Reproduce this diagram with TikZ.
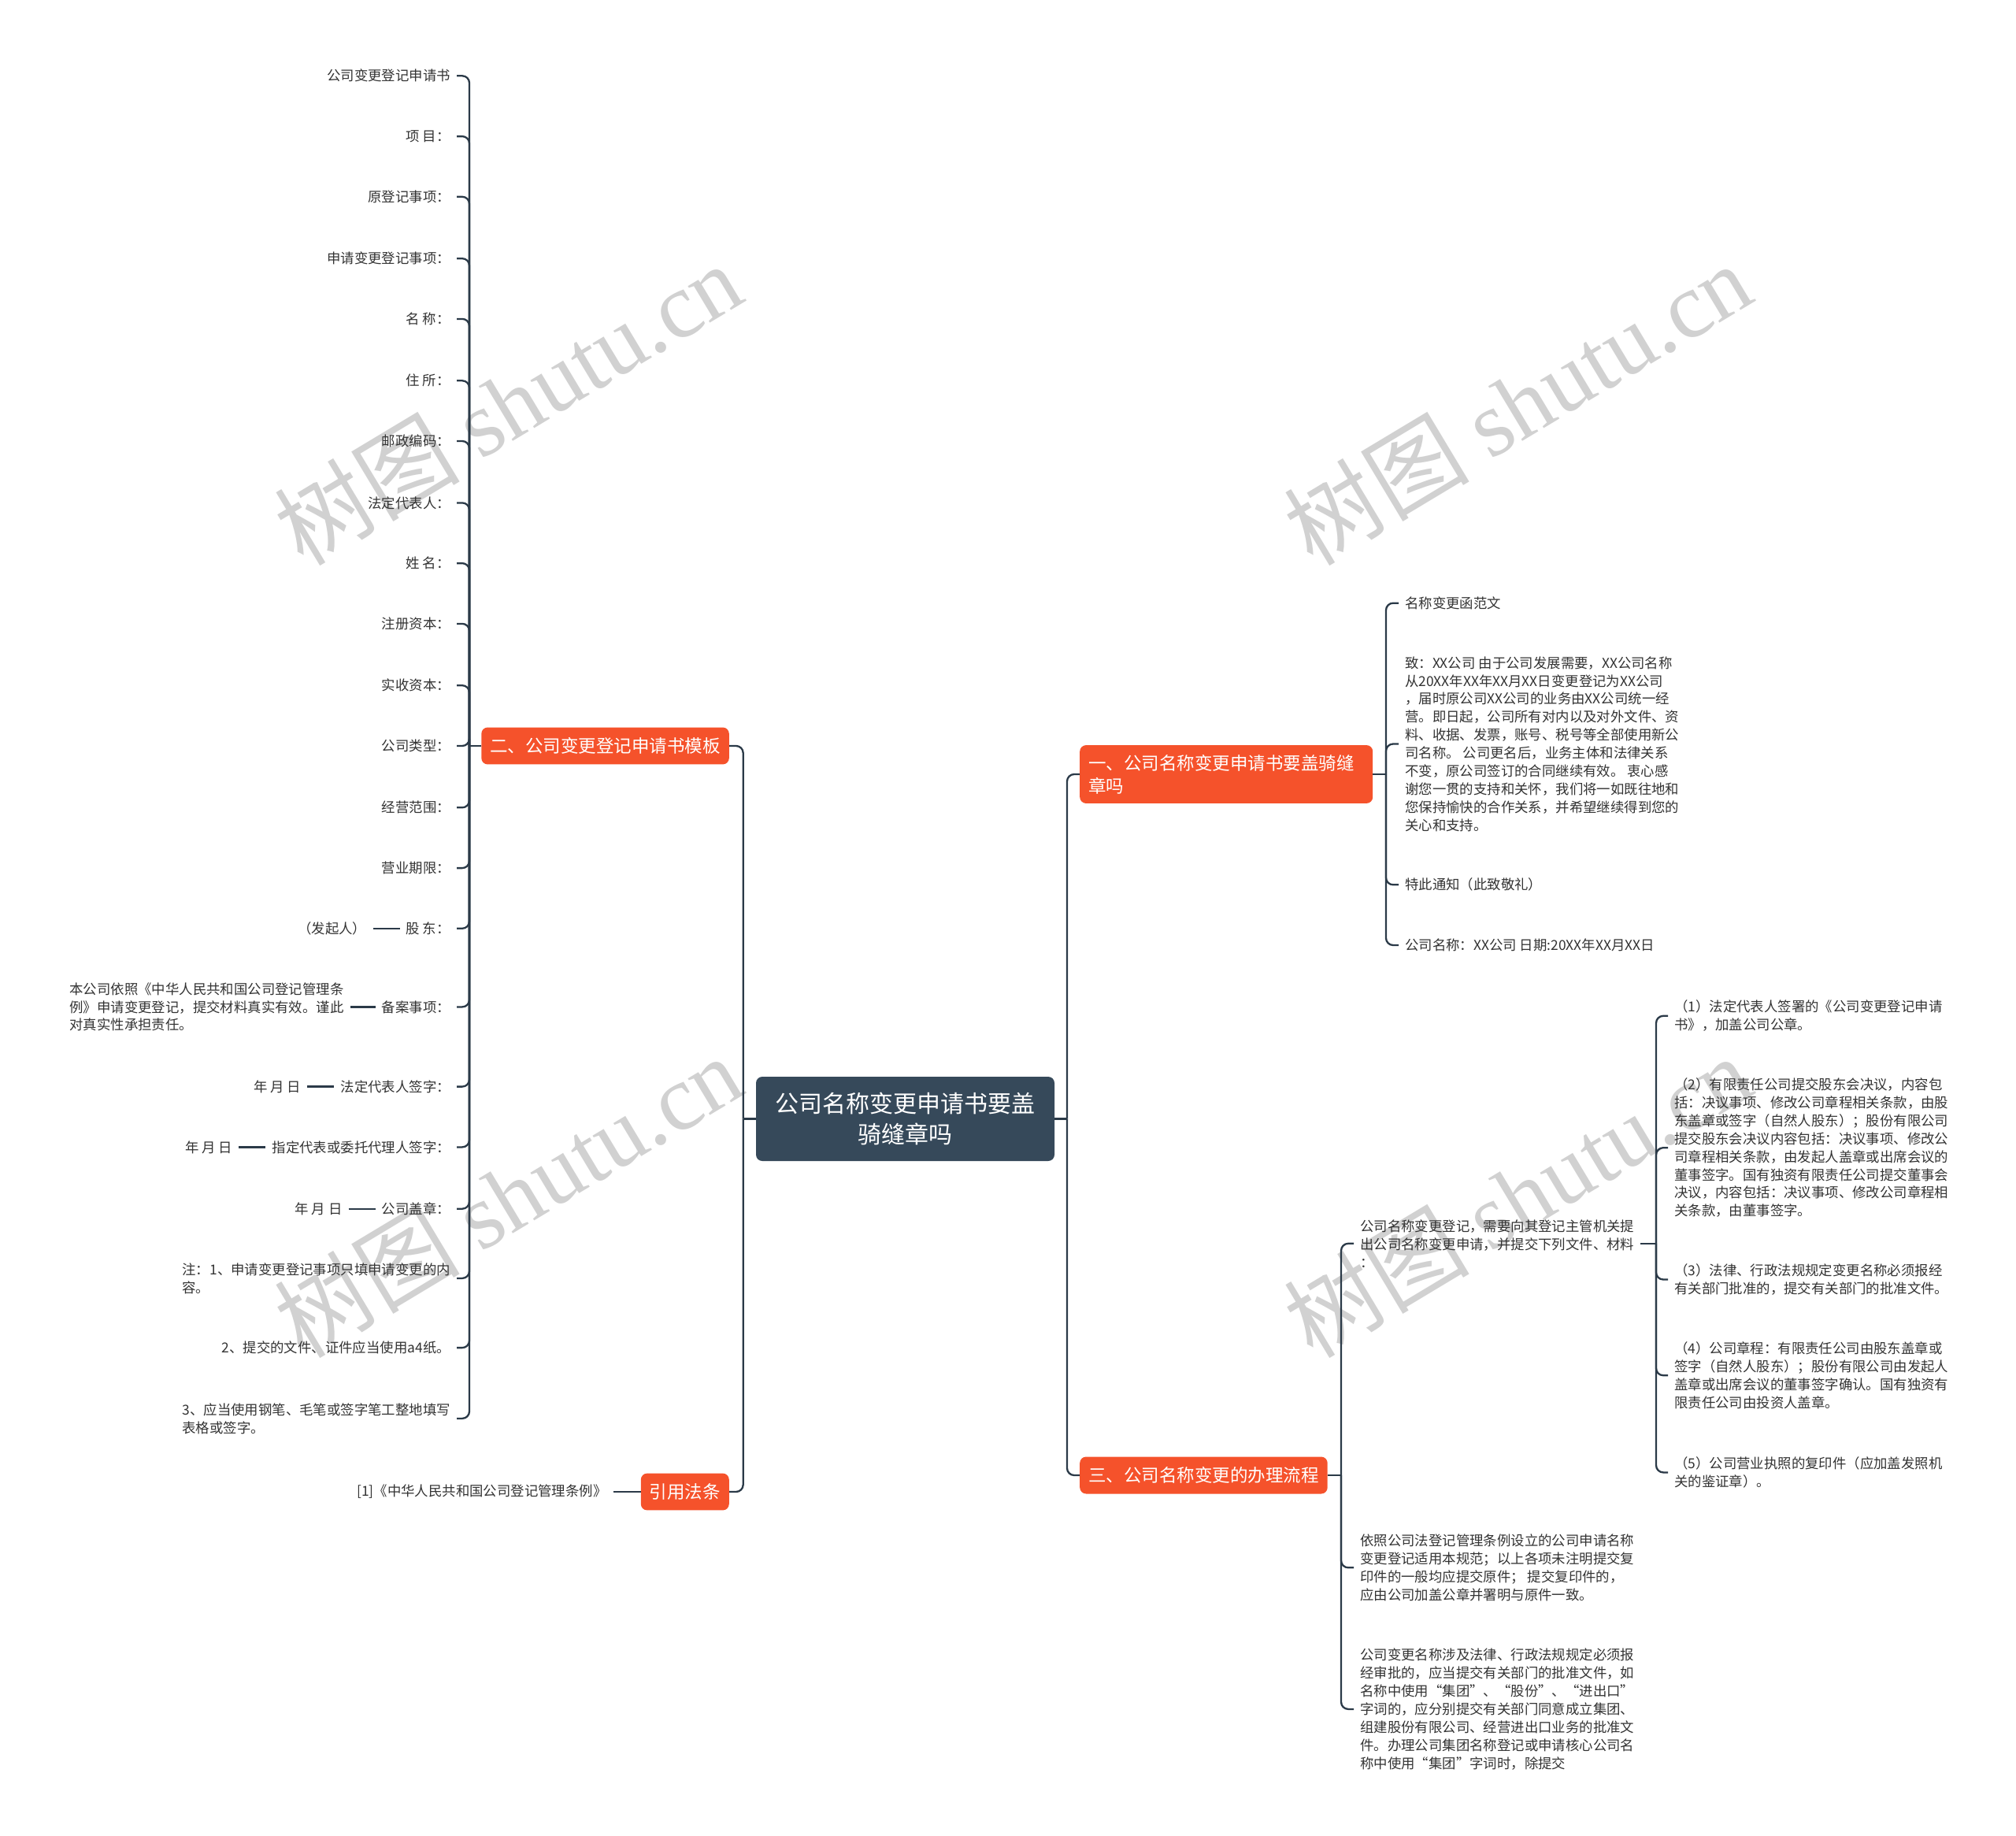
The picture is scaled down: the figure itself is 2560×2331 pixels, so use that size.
\documentclass[tikz,border=0pt]{standalone}
\usepackage{fontspec}
\setmainfont{Noto Sans CJK SC}
\newfontfamily\wmserif{Liberation Serif}
\usetikzlibrary{positioning}
\definecolor{orng}{HTML}{F5522B}
\definecolor{slate}{HTML}{36495A}
\definecolor{lnc}{HTML}{2B3A48}
\definecolor{txt}{HTML}{333333}
\begin{document}
\begin{tikzpicture}[x=1pt,y=-1pt,
  leaf/.style={font=\fontsize{17.4pt}{22.9pt}\selectfont, text=txt, align=left, inner xsep=8pt, inner ysep=3pt},
  lleaf/.style={leaf, anchor=east},
  rleaf/.style={leaf, anchor=west},
  branch/.style={fill=orng, text=white, rounded corners=8pt, font=\fontsize{22.5pt}{29pt}\selectfont, inner xsep=11pt, inner ysep=13pt, align=left},
  conn/.style={draw=lnc, line width=2.3pt, rounded corners=9pt},
  wm/.style={text=black!18, rotate=31, font=\fontsize{118pt}{118pt}\selectfont}
]
\useasboundingbox (0,0) rectangle (2560,2331);
\fill[white] (0,0) rectangle (2560,2331);

% watermarks
\node[wm] (wm1) at (645,512) {树图 {\wmserif shutu.cn}};
\node[wm] (wm2) at (1927,512) {树图 {\wmserif shutu.cn}};
\node[wm] (wm3) at (645,1518) {树图 {\wmserif shutu.cn}};
\node[wm] (wm4) at (1927,1518) {树图 {\wmserif shutu.cn}};

% central
\node[fill=slate, text=white, rounded corners=8pt, font=\fontsize{30pt}{39pt}\selectfont, align=center, minimum width=379pt, minimum height=107pt] (c) at (1149.5,1420.5) {公司名称变更申请书要盖\\骑缝章吗};

% branches
\node[branch, anchor=east] (b2) at (926,947) {二、公司变更登记申请书模板};
\node[branch, anchor=east] (ref) at (926,1894) {引用法条};
\node[branch, anchor=west, text width=350pt, inner ysep=12pt] (b1) at (1371,983) {一、公司名称变更申请书要盖骑缝\\章吗};
\node[branch, anchor=west] (b3) at (1371,1873) {三、公司名称变更的办理流程};

% left leaves
\node[lleaf] (l1) at (580,96.3) {公司变更登记申请书};
\node[lleaf] (l2) at (580,173.1) {项 目：};
\node[lleaf] (l3) at (580,249.8) {原登记事项：};
\node[lleaf] (l4) at (580,328.2) {申请变更登记事项：};
\node[lleaf] (l5) at (580,404.9) {名 称：};
\node[lleaf] (l6) at (580,483.3) {住 所：};
\node[lleaf] (l7) at (580,560.0) {邮政编码：};
\node[lleaf] (l8) at (580,638.4) {法定代表人：};
\node[lleaf] (l9) at (580,715.1) {姓 名：};
\node[lleaf] (l10) at (580,791.9) {注册资本：};
\node[lleaf] (l11) at (580,870.2) {实收资本：};
\node[lleaf] (l12) at (580,947.0) {公司类型：};
\node[lleaf] (l13) at (580,1025.3) {经营范围：};
\node[lleaf] (l14) at (580,1102.1) {营业期限：};
\node[lleaf] (l15) at (580,1178.8) {股 东：};
\node[lleaf] (l16) at (580,1278.4) {备案事项：};
\node[lleaf] (l17) at (580,1379.6) {法定代表人签字：};
\node[lleaf] (l18) at (580,1456.4) {指定代表或委托代理人签字：};
\node[lleaf] (l19) at (580,1534.7) {公司盖章：};
\node[lleaf] (l20) at (580,1622.9) {注：1、申请变更登记事项只填申请变更的内\\容。};
\node[lleaf] (l21) at (580,1711.1) {2、提交的文件、证件应当使用a4纸。};
\node[lleaf] (l22) at (580,1800.9) {3、应当使用钢笔、毛笔或签字笔工整地填写\\表格或签字。};

% children of left leaves
\node[lleaf, left=34pt of l15] (l15c) {（发起人）};
\node[lleaf, left=32pt of l16] (l16c) {本公司依照《中华人民共和国公司登记管理条\\例》申请变更登记，提交材料真实有效。谨此\\对真实性承担责任。};
\node[lleaf, left=34pt of l17] (l17c) {年 月 日};
\node[lleaf, left=34pt of l18] (l18c) {年 月 日};
\node[lleaf, left=34pt of l19] (l19c) {年 月 日};
\node[lleaf, left=35pt of ref] (refc) {[1]《中华人民共和国公司登记管理条例》};

% right leaves of 一
\node[rleaf] (r1) at (1776,765.7) {名称变更函范文};
\node[rleaf] (r2) at (1776,944.5) {致：XX公司 由于公司发展需要，XX公司名称\\从20XX年XX年XX月XX日变更登记为XX公司\\，届时原公司XX公司的业务由XX公司统一经\\营。即日起，公司所有对内以及对外文件、资\\料、收据、发票，账号、税号等全部使用新公\\司名称。 公司更名后，业务主体和法律关系\\不变，原公司签订的合同继续有效。 衷心感\\谢您一贯的支持和关怀，我们将一如既往地和\\您保持愉快的合作关系，并希望继续得到您的\\关心和支持。};
\node[rleaf] (r3) at (1776,1123.3) {特此通知（此致敬礼）};
\node[rleaf] (r4) at (1776,1200.0) {公司名称：XX公司 日期:20XX年XX月XX日};

% leaves of 三
\node[rleaf] (s1) at (1719,1578.8) {公司名称变更登记，需要向其登记主管机关提\\出公司名称变更申请，并提交下列文件、材料\\：};
\node[rleaf] (s2) at (1719,1990.3) {依照公司法登记管理条例设立的公司申请名称\\变更登记适用本规范；以上各项未注明提交复\\印件的一般均应提交原件； 提交复印件的，\\应由公司加盖公章并署明与原件一致。};
\node[rleaf] (s3) at (1719,2169.9) {公司变更名称涉及法律、行政法规规定必须报\\经审批的，应当提交有关部门的批准文件，如\\名称中使用“集团”、“股份”、“进出口”\\字词的，应分别提交有关部门同意成立集团、\\组建股份有限公司、经营进出口业务的批准文\\件。办理公司集团名称登记或申请核心公司名\\称中使用“集团”字词时，除提交};

% children of s1
\node[rleaf] (t1) at (2118,1289.8) {（1）法定代表人签署的《公司变更登记申请\\书》，加盖公司公章。};
\node[rleaf] (t2) at (2118,1457.2) {（2）有限责任公司提交股东会决议，内容包\\括：决议事项、修改公司章程相关条款，由股\\东盖章或签字（自然人股东）；股份有限公司\\提交股东会决议内容包括：决议事项、修改公\\司章程相关条款，由发起人盖章或出席会议的\\董事签字。国有独资有限责任公司提交董事会\\决议，内容包括：决议事项、修改公司章程相\\关条款，由董事签字。};
\node[rleaf] (t3) at (2118,1624.5) {（3）法律、行政法规规定变更名称必须报经\\有关部门批准的，提交有关部门的批准文件。};
\node[rleaf] (t4) at (2118,1746.2) {（4）公司章程：有限责任公司由股东盖章或\\签字（自然人股东）；股份有限公司由发起人\\盖章或出席会议的董事签字确认。国有独资有\\限责任公司由投资人盖章。};
\node[rleaf] (t5) at (2118,1869.4) {（5）公司营业执照的复印件（应加盖发照机\\关的鉴证章）。};

% connectors: central
\coordinate (cl) at (943.7,1420.5);
\coordinate (cr) at (1355,1420.5);
\draw[conn] (c.west) -- (cl);
\draw[conn] (cl) |- (b2.east);
\draw[conn] (cl) |- (ref.east);
\draw[conn] (c.east) -- (cr);
\draw[conn] (cr) |- (b1.west);
\draw[conn] (cr) |- (b3.west);

% 二 trunk
\coordinate (j2) at (596,947);
\draw[conn] (b2.west) -- (j2);
\foreach \i in {1,...,22} \draw[conn] (j2) |- (l\i.east);
\foreach \i in {15,16,17,18,19} \draw[conn] (l\i c.east) -- (l\i.west);
\draw[conn] (refc.east) -- (ref.west);

% 一 trunk
\coordinate (j1) at (1760,983);
\draw[conn] (b1.east) -- (j1);
\foreach \i in {1,...,4} \draw[conn] (j1) |- (r\i.west);

% 三 trunk
\coordinate (j3) at (1703,1873);
\draw[conn] (b3.east) -- (j3);
\foreach \i in {1,2,3} \draw[conn] (j3) |- (s\i.west);

% s1 trunk
\coordinate (js) at (2103,1578.8);
\draw[conn] (s1.east) -- (js);
\foreach \i in {1,...,5} \draw[conn] (js) |- (t\i.west);
\end{tikzpicture}
\end{document}
